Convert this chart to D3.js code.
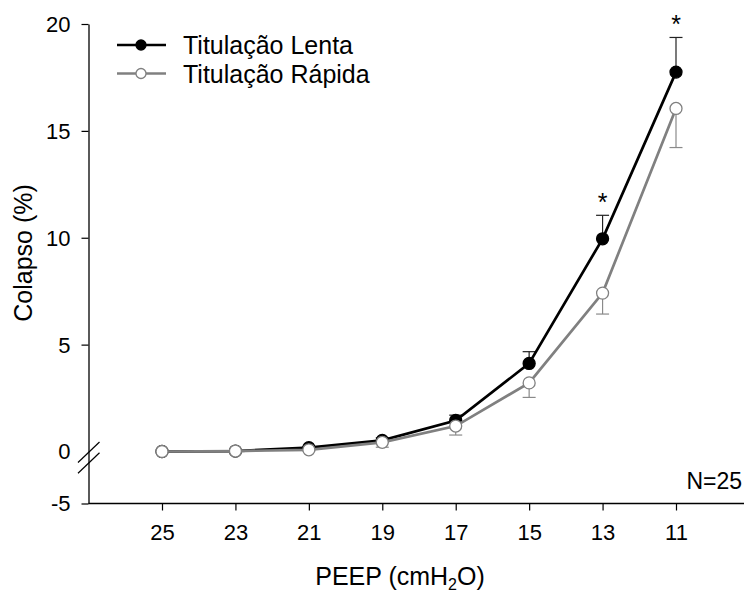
<!DOCTYPE html>
<html>
<head>
<meta charset="utf-8">
<script src="https://cdn.jsdelivr.net/npm/d3@7"></script>
<style>
  html, body { margin: 0; padding: 0; background: #fff; }
  svg { display: block; }
  text { font-family: "Liberation Sans", Arial, sans-serif; fill: #000; }
</style>
</head>
<body>
<svg id="chart" width="744" height="597"></svg>
<script>
// ---- data ----
const peep = [25, 23, 21, 19, 17, 15, 13, 11];
const lenta = [0.0, 0.02, 0.18, 0.52, 1.45, 4.12, 9.95, 17.75];
const lentaSE = [0, 0, 0.05, 0.12, 0.25, 0.55, 1.1, 1.62];
const rapida = [0.0, 0.02, 0.08, 0.43, 1.19, 3.21, 7.41, 16.05];
const rapidaSE = [0, 0, 0.05, 0.23, 0.42, 0.68, 0.98, 1.83];
const significant = [13, 11];
const yTicks = [-5, 0, 5, 10, 15, 20];
const seriesNames = ["Titulação Lenta", "Titulação Rápida"];
const nLabel = "N=25";

// ---- layout ----
const svg = d3.select("#chart");
const axisX = 88.5, axisY = 503.5;
const x = d3.scaleLinear().domain([25, 11]).range([162, 676]);
const y = d3.scaleLinear().domain([-5, 0, 20]).range([503.5, 451.5, 24]);

// y axis
const yAxis = svg.append("g")
  .attr("transform", `translate(${axisX},0)`)
  .call(d3.axisLeft(y).tickValues(yTicks).tickSize(7).tickSizeOuter(0).tickPadding(11).tickFormat(d3.format("d")));
yAxis.selectAll("path.domain").attr("stroke", "#000").attr("stroke-width", 1.3);
yAxis.selectAll(".tick line").attr("stroke", "#000").attr("stroke-width", 1.2)
  .filter(d => d === 0).remove();
yAxis.selectAll(".tick text").style("font-size", "22px").attr("dy", "0.34em")
  .text(d => d < 0 ? "-" + Math.abs(d) : d);

// x axis
svg.append("line").attr("x1", axisX).attr("x2", 744).attr("y1", axisY).attr("y2", axisY)
  .attr("stroke", "#000").attr("stroke-width", 1.3);
const xAxis = svg.append("g")
  .attr("transform", `translate(0,${axisY})`)
  .call(d3.axisBottom(x).tickValues(peep).tickSize(7).tickSizeOuter(0).tickPadding(14));
xAxis.select("path.domain").remove();
xAxis.selectAll(".tick line").attr("stroke", "#000").attr("stroke-width", 1.2);
xAxis.selectAll(".tick text").style("font-size", "22px");

// axis break marks
[0, 10.7].forEach(off => {
  svg.append("line")
    .attr("x1", 78).attr("y1", 462.5 + off).attr("x2", 99.5).attr("y2", 442 + off)
    .attr("stroke", "#000").attr("stroke-width", 1.2);
});

// titles
const xt = svg.append("text").attr("x", 400).attr("y", 585).attr("text-anchor", "middle").style("font-size", "25px");
xt.append("tspan").text("PEEP (cmH");
xt.append("tspan").attr("dy", 5).style("font-size", "16px").text("2");
xt.append("tspan").attr("dy", -5).text("O)");

svg.append("text").attr("transform", "translate(32,253) rotate(-90)")
  .attr("text-anchor", "middle").style("font-size", "25px").text("Colapso (%)");

// N label
svg.append("text").attr("x", 742).attr("y", 489).attr("text-anchor", "end")
  .style("font-size", "23px").text(nLabel);

// ---- series ----
const series = [
  { name: seriesNames[0], vals: lenta, se: lentaSE, color: "#000", fill: "#000", dir: 1, ebColor: "#222" },
  { name: seriesNames[1], vals: rapida, se: rapidaSE, color: "#808080", fill: "#fff", dir: -1, ebColor: "#8a8a8a" }
];

const line = d3.line().x(d => x(d[0])).y(d => y(d[1]));

series.forEach(s => {
  const g = svg.append("g");
  const pts = peep.map((p, i) => [p, s.vals[i], s.se[i]]);
  // error bars
  pts.filter(d => d[2] > 0).forEach(d => {
    const yEnd = y(d[1] + s.dir * d[2]);
    g.append("line").attr("x1", x(d[0])).attr("x2", x(d[0]))
      .attr("y1", y(d[1])).attr("y2", yEnd)
      .attr("stroke", s.ebColor).attr("stroke-width", 1.2);
    g.append("line").attr("x1", x(d[0]) - 6.5).attr("x2", x(d[0]) + 6.5)
      .attr("y1", yEnd).attr("y2", yEnd)
      .attr("stroke", s.ebColor).attr("stroke-width", 1.2);
  });
  g.append("path").datum(pts).attr("d", line)
    .attr("fill", "none").attr("stroke", s.color).attr("stroke-width", 2.7);
  g.selectAll("circle").data(pts).join("circle")
    .attr("cx", d => x(d[0])).attr("cy", d => y(d[1])).attr("r", 6)
    .attr("fill", s.fill).attr("stroke", s.color).attr("stroke-width", 1.3);
});

// significance asterisks
significant.forEach(p => {
  const i = peep.indexOf(p);
  const top = y(lenta[i] + lentaSE[i]);
  svg.append("text").attr("x", x(p)).attr("y", top - 4).attr("text-anchor", "middle")
    .style("font-size", "25px").text("*");
});

// legend
series.forEach((s, i) => {
  const ly = 45 + i * 28.5;
  svg.append("line").attr("x1", 117).attr("x2", 166).attr("y1", ly).attr("y2", ly)
    .attr("stroke", s.color).attr("stroke-width", 2.7);
  svg.append("circle").attr("cx", 141).attr("cy", ly).attr("r", 5)
    .attr("fill", s.fill).attr("stroke", s.color).attr("stroke-width", 1.3);
  svg.append("text").attr("x", 183).attr("y", ly).attr("dy", "0.36em")
    .style("font-size", "25px").text(s.name);
});
</script>
</body>
</html>
